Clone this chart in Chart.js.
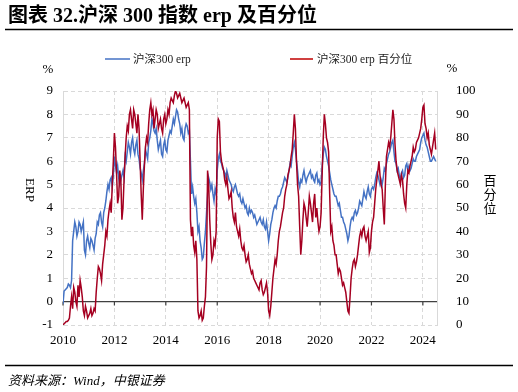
<!DOCTYPE html>
<html>
<head>
<meta charset="utf-8">
<script src="https://cdn.jsdelivr.net/npm/chart.js@4.4.1/dist/chart.umd.min.js"></script>
<style>
  html, body { margin: 0; padding: 0; background: #fff; }
  #wrap { position: relative; width: 518px; height: 392px; }
</style>
</head>
<body>
<div id="wrap"><canvas id="erpChart" width="518" height="392"></canvas></div>
<script>
// month-start points from Jan 2010, plus mid-month readings in between
const startYear = 2010;
const yearTicks = [2010, 2012, 2014, 2016, 2018, 2020, 2022, 2024];

// 沪深300 erp (%), left axis, start of each month
const erp = [
  -0.1, 0.5, 0.6, 0.7, 0.9, 3.0, 3.2, 3.0, 3.3, 3.2, 2.2, 2.6,
  2.5, 2.7, 2.4, 2.7, 3.4, 3.7, 3.4, 3.8, 4.3, 5.0, 5.2, 4.9,
  6.2, 5.5, 5.3, 5.2, 5.6, 6.2, 6.4, 6.6, 6.8, 6.5, 6.7, 6.3,
  5.7, 5.2, 5.9, 6.3, 6.8, 7.3, 7.6, 7.2, 6.9, 6.7, 6.3, 6.7,
  6.5, 6.9, 7.3, 7.5, 7.6, 8.2, 7.8, 7.2, 7.0, 7.4, 7.5, 7.3,
  4.6, 4.5, 4.4, 3.0, 2.6, 1.8, 2.5, 3.8, 5.3, 4.8, 4.6, 4.8,
  5.6, 6.3, 5.9, 5.6, 5.3, 5.4, 5.1, 4.8, 4.9, 4.8, 4.5, 4.3,
  4.4, 4.0, 3.8, 4.0, 3.9, 3.6, 3.5, 3.4, 3.6, 3.3, 3.2, 3.4,
  2.6, 3.3, 3.8, 4.1, 4.3, 4.5, 4.8, 5.1, 5.2, 5.3, 5.9, 6.2,
  6.8, 6.0, 5.1, 5.2, 5.4, 5.3, 5.3, 5.5, 5.3, 5.2, 5.4, 5.1,
  5.0, 5.8, 6.6, 6.2, 5.8, 5.2, 4.8, 4.5, 4.3, 4.2, 3.6, 3.4,
  3.1, 2.6, 3.2, 3.6, 3.8, 3.7, 4.0, 4.2, 4.4, 4.5, 4.7, 4.6,
  4.8, 4.8, 5.3, 5.4, 5.0, 5.0, 5.7, 5.9, 6.3, 6.6, 6.9, 6.0,
  5.6, 5.4, 5.5, 5.3, 5.8, 5.6, 5.6, 5.9, 6.0, 6.2, 6.4, 6.8,
  7.1, 6.9, 6.6, 6.2, 6.0, 6.2, 6.0
];

// 沪深300 erp (%), middle of each month
const erpMid = [
  0.45, 0.55, 0.75, 0.6, 2.6, 3.4, 2.8, 3.4, 3.0, 3.4, 2.0, 2.8,
  2.3, 2.6, 2.2, 2.9, 3.3, 3.8, 3.2, 4.0, 4.7, 4.8, 5.3, 5.4,
  5.8, 5.8, 5.0, 5.4, 5.3, 6.0, 6.8, 6.3, 7.0, 6.3, 6.9, 6.1,
  5.5, 5.6, 6.5, 6.1, 7.0, 7.8, 7.3, 7.4, 6.5, 6.9, 6.2, 6.9,
  6.4, 7.1, 7.2, 7.8, 7.9, 8.1, 7.6, 7.4, 6.9, 7.6, 7.2, 6.0,
  4.9, 4.2, 3.8, 3.2, 2.3, 1.9, 3.0, 4.6, 5.1, 5.0, 4.3, 4.6,
  6.1, 6.0, 5.7, 5.5, 5.6, 5.2, 5.0, 4.7, 5.0, 4.6, 4.6, 4.2,
  4.2, 4.1, 3.7, 3.8, 3.8, 3.7, 3.3, 3.5, 3.4, 3.5, 3.1, 3.0,
  2.9, 3.5, 4.0, 4.0, 4.5, 4.6, 4.9, 5.3, 5.1, 5.6, 5.8, 6.6,
  6.5, 5.6, 4.9, 5.1, 5.6, 5.1, 5.4, 5.6, 5.4, 5.1, 5.5, 5.2,
  5.1, 6.3, 6.5, 6.0, 5.5, 5.0, 4.6, 4.5, 4.1, 3.9, 3.6, 3.3,
  2.9, 2.8, 3.5, 3.5, 3.9, 3.8, 4.3, 4.1, 4.7, 4.4, 4.9, 4.5,
  4.9, 5.0, 5.5, 5.2, 5.2, 5.3, 5.6, 6.1, 6.4, 6.8, 6.4, 5.9,
  5.7, 5.2, 5.6, 5.4, 5.9, 5.8, 5.7, 6.1, 6.0, 6.3, 6.5, 7.0,
  7.2, 6.7, 6.4, 6.0, 6.1, 6.1
];

// 沪深300 erp 百分位 (%), right axis, start of each month
const pct = [
  0, 1, 1.5, 3, 12, 16, 10, 17, 19, 12, 4, 6,
  4, 7, 5, 6, 20, 24, 19, 30, 40, 45, 52, 60,
  82, 65, 55, 62, 50, 72, 85, 90, 88, 92, 86, 90,
  70, 45, 68, 80, 86, 95, 92, 88, 90, 86, 84, 88,
  86, 92, 95, 96, 98, 99, 98, 97, 96, 95, 94, 92,
  38, 34, 36, 6, 4, 2, 8, 25, 60, 35, 30, 34,
  80, 87, 70, 66, 60, 58, 55, 50, 44, 42, 38, 36,
  32, 30, 28, 26, 22, 20, 18, 16, 18, 15, 14, 18,
  6, 8, 20, 28, 30, 40, 45, 50, 58, 64, 68, 75,
  90, 70, 55, 30, 45, 50, 42, 55, 48, 52, 46, 44,
  42, 65, 90, 80, 74, 40, 36, 30, 26, 24, 20, 18,
  14, 6, 12, 24, 28, 27, 34, 40, 41, 38, 38, 31,
  40, 46, 58, 66, 64, 58, 43, 72, 78, 80, 92, 77,
  66, 62, 64, 56, 50, 66, 68, 72, 74, 78, 80, 84,
  93, 86, 80, 77, 73, 79, 75
];

// 沪深300 erp 百分位 (%), middle of each month
const pctMid = [
  0.5, 1.5, 2, 8, 7, 14, 8, 12, 16, 6, 8, 3,
  5, 4, 7, 14, 25, 22, 26, 34, 38, 49, 48, 70,
  76, 52, 66, 45, 62, 80, 83, 92, 84, 90, 82, 84,
  56, 58, 76, 78, 92, 90, 84, 92, 84, 88, 82, 90,
  88, 90, 97, 95, 100, 97, 99, 95, 97, 93, 95, 45,
  42, 31, 28, 3, 6, 3, 12, 66, 45, 28, 36, 40,
  88, 74, 68, 62, 63, 54, 57, 46, 48, 40, 41, 33,
  34, 27, 30, 24, 23, 19, 17, 15, 19, 13, 16, 14,
  4, 14, 24, 26, 36, 42, 48, 55, 60, 66, 72, 82,
  84, 60, 42, 36, 52, 46, 48, 52, 44, 56, 50, 40,
  48, 80, 86, 78, 56, 42, 34, 30, 22, 23, 17, 16,
  10, 5, 20, 27, 25, 30, 38, 38, 42, 36, 40, 33,
  44, 52, 62, 70, 60, 50, 60, 75, 76, 86, 88, 70,
  64, 60, 62, 52, 60, 65, 70, 76, 75, 79, 82, 88,
  94, 84, 82, 75, 76, 82
];

const toPoints = (starts, mids) => {
  const pts = [];
  starts.forEach((v, i) => {
    pts.push({ x: startYear + i / 12, y: v });
    if (i < mids.length) pts.push({ x: startYear + (i + 0.5) / 12, y: mids[i] });
  });
  return pts;
};

const serif = '"Liberation Serif", "Noto Sans CJK SC", serif';
const gridColor = '#d9d9d9';

// titles, legend, units, footer and the zero line
const decor = {
  id: 'decor',
  beforeDatasetsDraw(chart) {
    const { ctx, chartArea, scales } = chart;
    const y0 = scales.y.getPixelForValue(0);
    ctx.save();
    ctx.strokeStyle = '#404040';
    ctx.lineWidth = 1.2;
    ctx.beginPath();
    ctx.moveTo(chartArea.left, y0);
    ctx.lineTo(chartArea.right, y0);
    yearTicks.forEach(yr => {
      const x = scales.x.getPixelForValue(yr);
      ctx.moveTo(x, y0);
      ctx.lineTo(x, y0 + 4);
    });
    ctx.stroke();
    ctx.restore();
  },
  afterDraw(chart) {
    const { ctx } = chart;
    ctx.save();
    ctx.fillStyle = '#000';
    ctx.textBaseline = 'alphabetic';

    // title
    ctx.font = 'bold 20px ' + serif;
    ctx.fillText('图表 32.沪深 300 指数 erp 及百分位', 8, 22);
    ctx.lineWidth = 1.5;
    ctx.strokeStyle = '#000';
    ctx.beginPath();
    ctx.moveTo(5, 29.5); ctx.lineTo(513, 29.5);
    ctx.moveTo(5, 365.5); ctx.lineTo(513, 365.5);
    ctx.stroke();

    // legend
    ctx.font = '11.5px ' + serif;
    ctx.fillStyle = '#222';
    ctx.lineWidth = 1.5;
    ctx.strokeStyle = '#4472c4';
    ctx.beginPath(); ctx.moveTo(105, 59); ctx.lineTo(130, 59); ctx.stroke();
    ctx.fillText('沪深300 erp', 133, 63);
    ctx.strokeStyle = '#c00000';
    ctx.beginPath(); ctx.moveTo(290, 59); ctx.lineTo(313, 59); ctx.stroke();
    ctx.fillText('沪深300 erp 百分位', 317, 63);

    // units and axis titles
    ctx.font = '13px ' + serif;
    ctx.fillStyle = '#000';
    ctx.textAlign = 'center';
    ctx.fillText('%', 48, 73);
    ctx.fillText('%', 452, 72);
    ctx.fillText('百', 490, 185);
    ctx.fillText('分', 490, 199);
    ctx.fillText('位', 490, 213);
    ctx.save();
    ctx.translate(29, 190);
    ctx.rotate(Math.PI / 2);
    ctx.textBaseline = 'middle';
    ctx.fillText('ERP', 0, 0);
    ctx.restore();

    // source
    ctx.textAlign = 'left';
    ctx.font = 'italic 13px ' + serif;
    ctx.fillText('资料来源：Wind，中银证券', 8, 385);
    ctx.restore();
  }
};

new Chart(document.getElementById('erpChart'), {
  type: 'line',
  data: {
    datasets: [
      {
        label: '沪深300 erp 百分位',
        data: toPoints(pct, pctMid),
        yAxisID: 'y2',
        borderColor: '#a50021',
        borderWidth: 1.5,
        pointRadius: 0,
        tension: 0,
        order: 1
      },
      {
        label: '沪深300 erp',
        data: toPoints(erp, erpMid),
        yAxisID: 'y',
        borderColor: '#4472c4',
        borderWidth: 1.5,
        pointRadius: 0,
        tension: 0,
        order: 2
      }
    ]
  },
  options: {
    responsive: false,
    animation: false,
    events: [],
    layout: { padding: { top: 91, left: 0, right: 0, bottom: 0 } },
    plugins: { legend: { display: false }, title: { display: false }, tooltip: { enabled: false } },
    scales: {
      x: {
        type: 'linear',
        min: 2010,
        max: 2024.55,
        afterBuildTicks: s => { s.ticks = yearTicks.map(v => ({ value: v })); },
        afterFit: s => { s.height = 67; },
        grid: { color: gridColor, drawTicks: false },
        border: { display: false, dash: [4, 3] },
        ticks: {
          padding: 8,
          color: '#000',
          font: { family: serif, size: 13 },
          maxRotation: 0,
          callback: v => String(v)
        }
      },
      y: {
        position: 'left',
        min: -1,
        max: 9,
        afterFit: s => { s.width = 63; },
        grid: { color: gridColor, drawTicks: false },
        border: { display: true, color: gridColor, dash: [4, 3] },
        ticks: {
          stepSize: 1,
          padding: 10,
          color: '#000',
          font: { family: serif, size: 13 }
        }
      },
      y2: {
        position: 'right',
        min: 0,
        max: 100,
        afterFit: s => { s.width = 81; },
        grid: { display: false },
        border: { display: true, color: gridColor },
        ticks: {
          stepSize: 10,
          padding: 11,
          color: '#000',
          font: { family: serif, size: 13 }
        }
      }
    }
  },
  plugins: [decor]
});
</script>
</body>
</html>
